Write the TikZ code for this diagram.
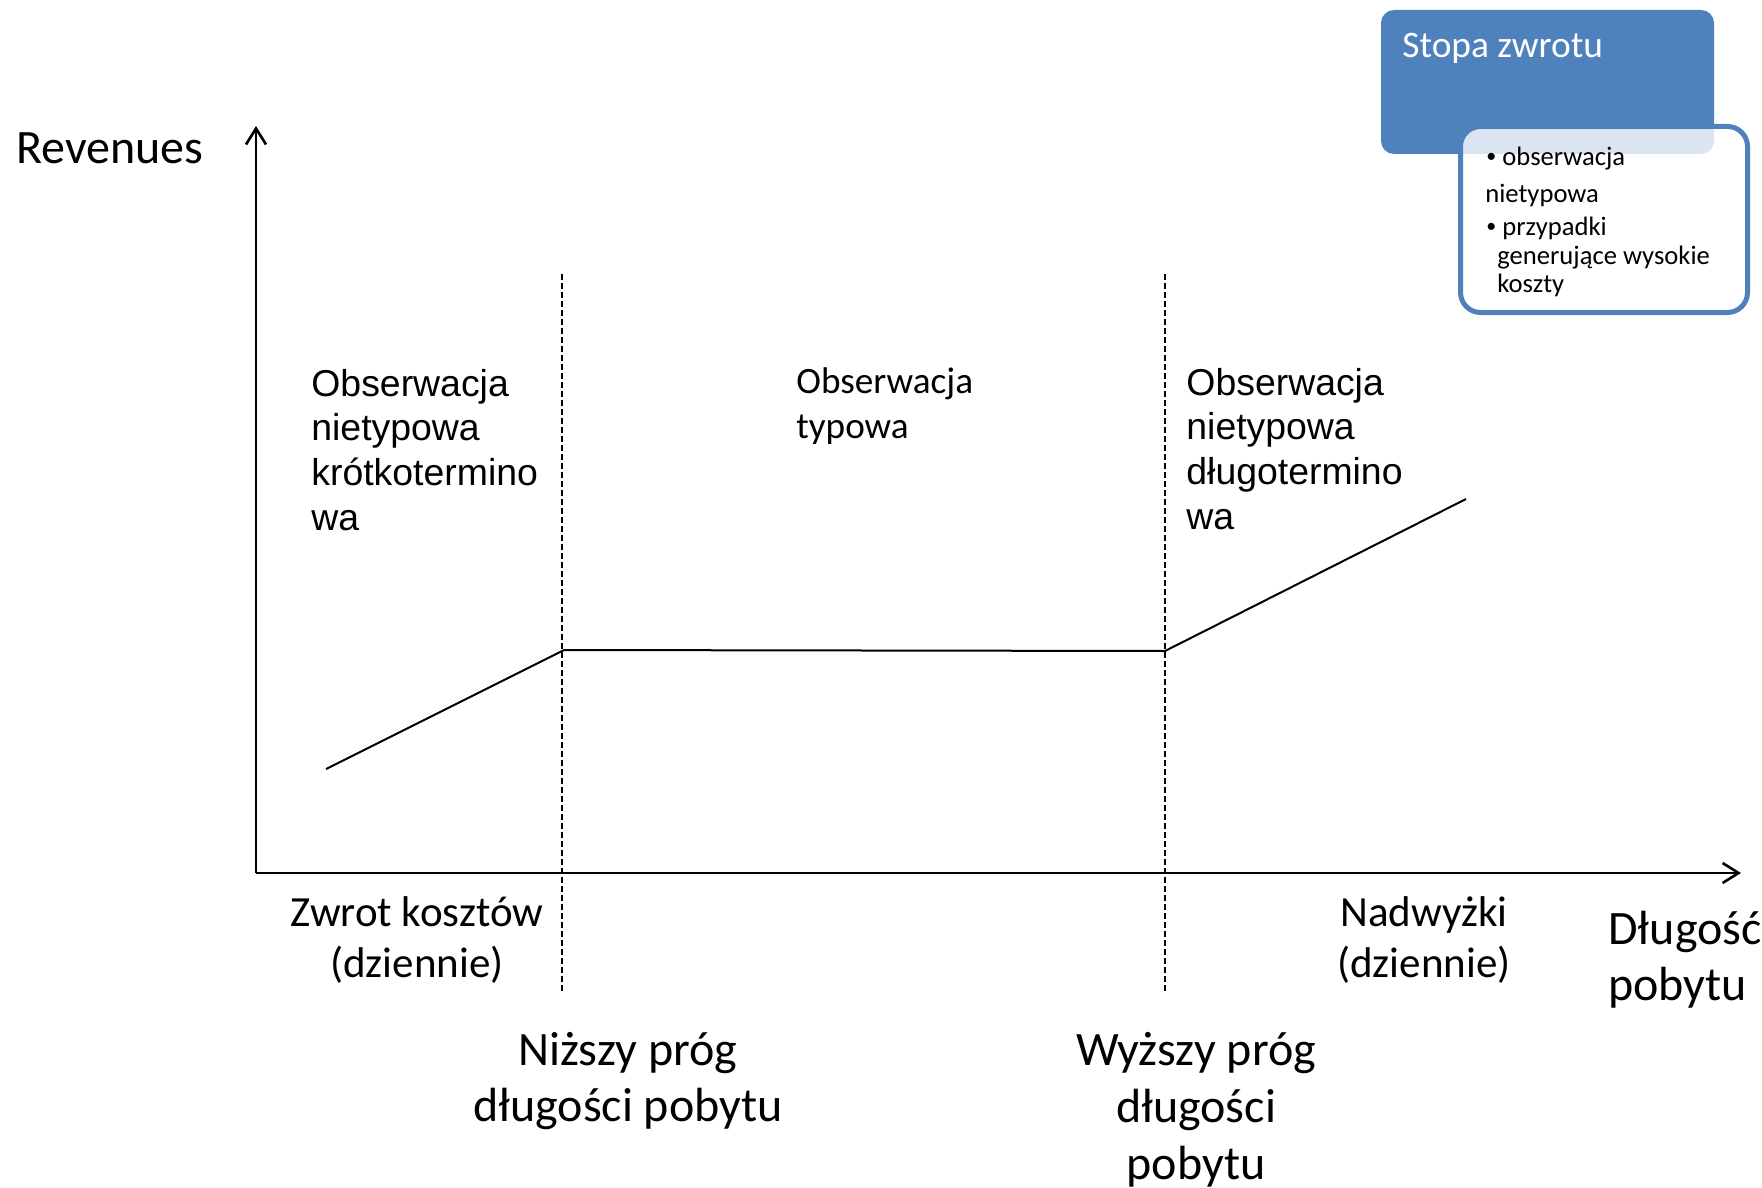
\documentclass[tikz,border=0pt]{standalone}
\usepackage{fontspec}
\setmainfont{Carlito}
\newfontfamily\arialfont{Liberation Sans}
\usetikzlibrary{arrows.meta}
\definecolor{boxblue}{HTML}{4F81BD}
\newcommand{\smallbul}{{\fontsize{10}{10}\selectfont\raisebox{1.5pt}{•}}\hspace{3pt}}

\begin{document}
\begin{tikzpicture}[
  x=0.5pt, y=-0.5pt,
  axis/.style={line width=1.3pt, -{Straight Barb[length=8pt,width=10pt]}},
  limit/.style={line width=0.8pt, dash pattern=on 3pt off 1.5pt},
  curve/.style={line width=1pt},
  lbl/.style={inner sep=0pt, font=\fontsize{24}{28}\selectfont},
  smalllbl/.style={inner sep=0pt, font=\fontsize{21.5}{25.3}\selectfont},
  zone/.style={inner sep=0pt, align=left, anchor=base west, font=\arialfont\fontsize{18.7}{22.3}\selectfont},
  bullet/.style={inner sep=0pt, anchor=base west, font=\fontsize{13.3}{13.5}\selectfont},
]

\useasboundingbox (0,0) rectangle (1762,1188);

\coordinate (o) at (256,873);
\coordinate (ytop) at (256,126);
\coordinate (xend) at (1741,873);
\draw [axis] (o) -- (ytop);
\draw [axis] (o) -- (xend);

\coordinate (lowtop) at (562,274);
\coordinate (lowbot) at (562,991);
\coordinate (hightop) at (1165,274);
\coordinate (highbot) at (1165,991);
\draw [limit] (lowtop) -- (lowbot);
\draw [limit] (hightop) -- (highbot);

\coordinate (c0) at (326,769);
\coordinate (c1) at (564,650);
\coordinate (c2) at (1165,651);
\coordinate (c3) at (1466,499);
\draw [curve] (c0) -- (c1) -- (c2) -- (c3);

% multi-line nodes sit on the baseline of their last line
\node (revenues) [lbl, anchor=base west] at (16,163) {Revenues};
\node (dlugosc) [lbl, anchor=base west, align=left] at (1608,1000) {Długość\\pobytu};

\node (short) [zone] at (311,530) {Obserwacja\\nietypowa\\krótkotermino\\wa};
\node (typical) [zone, font=\fontsize{18.6}{22.5}\selectfont] at (796,438) {Obserwacja\\typowa};
\node (long) [zone] at (1186,529) {Obserwacja\\nietypowa\\długotermino\\wa};

\node (zwrot) [smalllbl, anchor=base, align=center] at (417,977) {Zwrot kosztów\\(dziennie)};
\node (nadwyzki) [smalllbl, anchor=base, align=center] at (1424,977) {Nadwyżki\\(dziennie)};

\node (lowlim) [lbl, anchor=base, align=center] at (628,1121) {Niższy próg\\długości pobytu};
\node (highlim) [lbl, anchor=base, align=center, font=\fontsize{24}{28.5}\selectfont] at (1196,1179) {Wyższy próg\\długości\\pobytu};

\fill [boxblue, rounded corners=6.5pt] (1381,10) rectangle (1714,154);
\node (stopa) [inner sep=0pt, anchor=base west, text=white, font=\fontsize{18.7}{24}\selectfont] at (1402,58) {Stopa zwrotu};

\draw [boxblue, line width=2.5pt, fill=white, fill opacity=0.8, rounded corners=10pt] (1460.5,126.5) rectangle (1747.5,312.5);
\node (b1) [bullet] at (1486,165) {\smallbul obserwacja};
\node (b1b) [bullet] at (1485,202) {nietypowa};
\node (b2) [bullet] at (1486,235) {\smallbul przypadki};
\node (b2b) [bullet, align=left] at (1497,292) {generujące wysokie\\koszty};

\end{tikzpicture}
\end{document}
